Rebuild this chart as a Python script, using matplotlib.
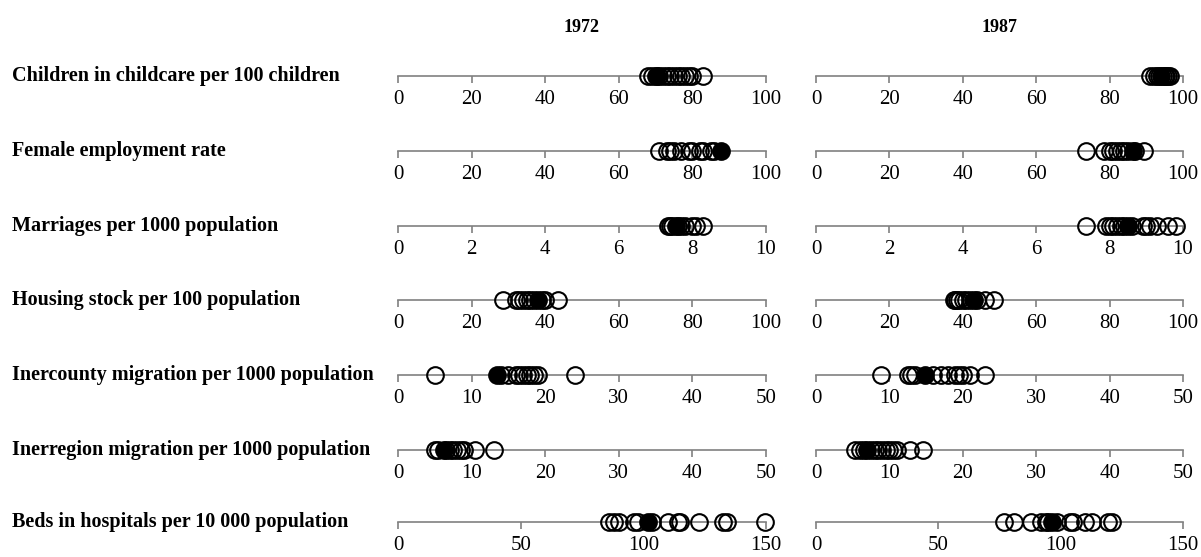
import matplotlib
matplotlib.use("Agg")
import matplotlib.pyplot as plt

plt.rcParams['font.family'] = ['Liberation Serif', 'DejaVu Serif']

years = ['1972', '1987']
labels = [
    'Children in childcare per 100 children',
    'Female employment rate',
    'Marriages per 1000 population',
    'Housing stock per 100 population',
    'Inercounty migration per 1000 population',
    'Inerregion migration per 1000 population',
    'Beds in hospitals per 10 000 population',
]
xmax = [100, 100, 10, 100, 50, 50, 150]
xstep = [20, 20, 2, 20, 10, 10, 50]

# open circles (all regions), per indicator, 1972 then 1987
vals_1972 = [
    [68, 69, 70.5, 71, 72, 73, 74, 75, 76, 77, 78, 79, 80, 83],
    [71, 73, 74, 75, 77, 79, 80, 82, 83, 85, 86],
    [7.35, 7.4, 7.45, 7.6, 7.7, 7.8, 8.0, 8.1, 8.3],
    [28.5, 32, 33, 34, 35, 36, 37, 39, 40, 43.5],
    [5, 14, 15, 16, 16.5, 17, 17.5, 18, 18.5, 19, 24],
    [5, 5.5, 6.5, 7, 7.5, 8, 8.5, 9, 10.5, 13],
    [86, 88, 90, 96, 98, 103.5, 110, 114, 115, 122.5, 132.5, 134, 149.5],
]
vals_1987 = [
    [91, 92, 93, 93.5, 94.5, 95, 95.5, 96, 96.5],
    [73.5, 78.5, 80, 81, 82, 83, 84, 85, 87, 89.5],
    [7.35, 7.9, 8.0, 8.1, 8.2, 8.3, 8.4, 8.6, 8.9, 9.0, 9.1, 9.3, 9.6, 9.8],
    [37.5, 38, 38.5, 39, 40, 41, 42, 44, 46, 48.5],
    [8.9, 12.5, 13, 13.5, 16, 17, 18, 19, 19.5, 20, 21, 23],
    [5.3, 6, 6.5, 7.5, 8, 8.5, 9, 9.5, 10, 10.5, 11, 12.8, 14.6],
    [77, 81, 88, 92, 94, 95, 98.5, 104, 105, 110, 113, 119.5, 121],
]
# highlighted region (filled circle)
focus_1972 = [70, 87.7, 7.55, 38, 13.4, 6.2, 102]
focus_1987 = [94.1, 86.5, 8.5, 43, 14.9, 7, 96.5]

W, H = 1201, 557
fig = plt.figure(figsize=(W / 100, H / 100), dpi=100)

row_y = [76, 151, 226, 300, 375, 450, 522]
col_x = [(398, 766), (816, 1183)]
ax_h = 40

for c, (vals, focus) in enumerate([(vals_1972, focus_1972), (vals_1987, focus_1987)]):
    x0, x1 = col_x[c]
    fig.text((x0 + x1) / 2 / W, 1 - 28 / H, years[c], ha='center', va='center',
             fontsize=13, fontweight='bold')
    for r in range(7):
        yc = row_y[r]
        ax = fig.add_axes([x0 / W, 1 - (yc + ax_h / 2) / H, (x1 - x0) / W, ax_h / H])
        ax.set_xlim(0, xmax[r])
        ax.set_ylim(-1, 1)
        for s in ['top', 'left', 'right']:
            ax.spines[s].set_visible(False)
        ax.spines['bottom'].set_position(('data', 0))
        ax.spines['bottom'].set_color('#808080')
        ax.spines['bottom'].set_linewidth(1.2)
        ax.set_xticks(range(0, xmax[r] + 1, xstep[r]))
        ax.tick_params(axis='x', direction='out', length=5, width=1.2, color='#808080',
                       labelsize=15, pad=5)
        ax.set_yticks([])
        ax.patch.set_visible(False)
        ax.plot(vals[r], [0] * len(vals[r]), 'o', ms=12, mfc='none', mec='black',
                mew=1.5, clip_on=False, zorder=3)
        ax.plot([focus[r]], [0], 'o', ms=12, mfc='black', mec='black',
                mew=1.5, clip_on=False, zorder=4)
        if c == 0:
            fig.text(12 / W, 1 - yc / H, labels[r], ha='left', va='center',
                     fontsize=14.5, fontweight='bold')

fig.savefig('out.png', dpi=100)
